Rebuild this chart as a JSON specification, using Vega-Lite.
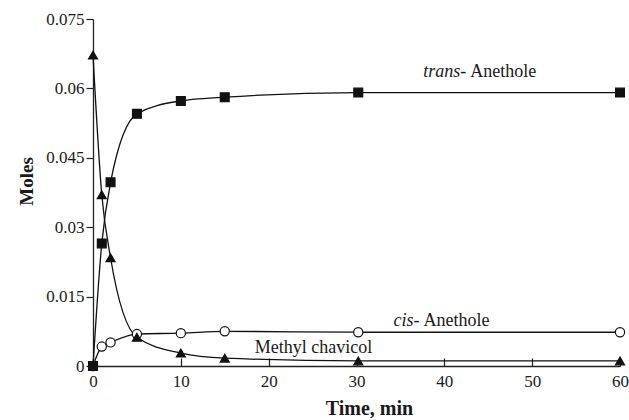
{
  "$schema": "https://vega.github.io/schema/vega-lite/v6.json",
  "autosize": "none",
  "width": 527,
  "height": 347,
  "padding": {"left": 93, "top": 19, "right": 9, "bottom": 54},
  "background": "white",
  "config": {
    "view": {"stroke": null},
    "font": "Liberation Serif",
    "axis": {"labelFont": "Liberation Serif", "titleFont": "Liberation Serif", "labelFontSize": 17, "labelColor": "#1a1a1a", "titleColor": "#1a1a1a", "domainColor": "#222", "tickColor": "#222", "domainWidth": 1.3, "tickWidth": 1.2, "grid": false, "labelFlush": false},
    "axisX": {"tickSize": -8, "labelPadding": 15},
    "axisY": {"tickSize": 7, "labelPadding": 2}
  },
  "datasets": {
    "measurements": [
      {"series": "cis-Anethole", "time": 0, "moles": 0},
      {"series": "cis-Anethole", "time": 1, "moles": 0.0042},
      {"series": "cis-Anethole", "time": 2, "moles": 0.0051},
      {"series": "cis-Anethole", "time": 5, "moles": 0.0069},
      {"series": "cis-Anethole", "time": 10, "moles": 0.0071},
      {"series": "cis-Anethole", "time": 15, "moles": 0.0075},
      {"series": "cis-Anethole", "time": 30.2, "moles": 0.0073},
      {"series": "cis-Anethole", "time": 60, "moles": 0.0073},
      {"series": "Methyl chavicol", "time": 0, "moles": 0.0672},
      {"series": "Methyl chavicol", "time": 1, "moles": 0.037},
      {"series": "Methyl chavicol", "time": 2, "moles": 0.0234},
      {"series": "Methyl chavicol", "time": 5, "moles": 0.0062},
      {"series": "Methyl chavicol", "time": 10, "moles": 0.0028},
      {"series": "Methyl chavicol", "time": 15, "moles": 0.0017},
      {"series": "Methyl chavicol", "time": 30.2, "moles": 0.0011},
      {"series": "Methyl chavicol", "time": 60, "moles": 0.0011},
      {"series": "trans-Anethole", "time": 0, "moles": 0},
      {"series": "trans-Anethole", "time": 1, "moles": 0.0265},
      {"series": "trans-Anethole", "time": 2, "moles": 0.0397},
      {"series": "trans-Anethole", "time": 5, "moles": 0.0545},
      {"series": "trans-Anethole", "time": 10, "moles": 0.0573},
      {"series": "trans-Anethole", "time": 15, "moles": 0.0581},
      {"series": "trans-Anethole", "time": 30.2, "moles": 0.0591},
      {"series": "trans-Anethole", "time": 60, "moles": 0.0591}
    ],
    "labelTrans": [{"time": 42.6, "moles": 0.0635}],
    "labelCis": [{"time": 37.3, "moles": 0.00975}],
    "labelMethyl": [{"time": 25.1, "moles": 0.0039}]
  },
  "encoding": {
    "x": {"field": "time", "type": "quantitative", "scale": {"domain": [0, 60], "nice": false},
      "axis": {"values": [0, 10, 20, 30, 40, 50, 60],
        "title": "Time, min", "titleFontSize": 20, "titleFontWeight": "bold", "titleX": 276, "titleY": 48, "titleBaseline": "alphabetic", "titleAnchor": "middle"}},
    "y": {"field": "moles", "type": "quantitative", "scale": {"domain": [0, 0.075], "nice": false},
      "axis": {"values": [0, 0.015, 0.03, 0.045, 0.06, 0.075], "labelExpr": "format(datum.value, '~g')",
        "title": "Moles", "titleFontSize": 19, "titleFontWeight": "bold", "titleX": -61, "titleY": 162, "titleBaseline": "alphabetic", "titleAngle": -90}}
  },
  "layer": [
    {
      "data": {"name": "measurements"},
      "mark": {"type": "line", "interpolate": "monotone", "color": "#111", "strokeWidth": 1.3},
      "encoding": {"detail": {"field": "series"}}
    },
    {
      "data": {"name": "measurements"},
      "mark": {"type": "point", "filled": false, "stroke": "#111", "strokeWidth": 1.2, "opacity": 1},
      "encoding": {
        "shape": {"field": "series", "type": "nominal", "legend": null,
          "scale": {"domain": ["trans-Anethole", "Methyl chavicol", "cis-Anethole"], "range": ["square", "triangle-up", "circle"]}},
        "fill": {"field": "series", "type": "nominal", "legend": null,
          "scale": {"domain": ["trans-Anethole", "Methyl chavicol", "cis-Anethole"], "range": ["#111", "#111", "white"]}},
        "size": {"field": "series", "type": "nominal", "legend": null,
          "scale": {"domain": ["trans-Anethole", "Methyl chavicol", "cis-Anethole"], "range": [78, 85, 48]}}
      }
    },
    {
      "data": {"name": "labelTrans"},
      "mark": {"type": "text", "text": "trans-", "fontStyle": "italic", "fontSize": 18, "align": "right", "baseline": "middle", "dx": -1, "color": "#1a1a1a"},
      "encoding": {}
    },
    {
      "data": {"name": "labelTrans"},
      "mark": {"type": "text", "text": "Anethole", "fontSize": 18, "align": "left", "baseline": "middle", "dx": 3, "color": "#1a1a1a"},
      "encoding": {}
    },
    {
      "data": {"name": "labelCis"},
      "mark": {"type": "text", "text": "cis-", "fontStyle": "italic", "fontSize": 18, "align": "right", "baseline": "middle", "dx": -1, "color": "#1a1a1a"},
      "encoding": {}
    },
    {
      "data": {"name": "labelCis"},
      "mark": {"type": "text", "text": "Anethole", "fontSize": 18, "align": "left", "baseline": "middle", "dx": 3, "color": "#1a1a1a"},
      "encoding": {}
    },
    {
      "data": {"name": "labelMethyl"},
      "mark": {"type": "text", "text": "Methyl chavicol", "fontSize": 18, "align": "center", "baseline": "middle", "color": "#1a1a1a"},
      "encoding": {}
    }
  ]
}
